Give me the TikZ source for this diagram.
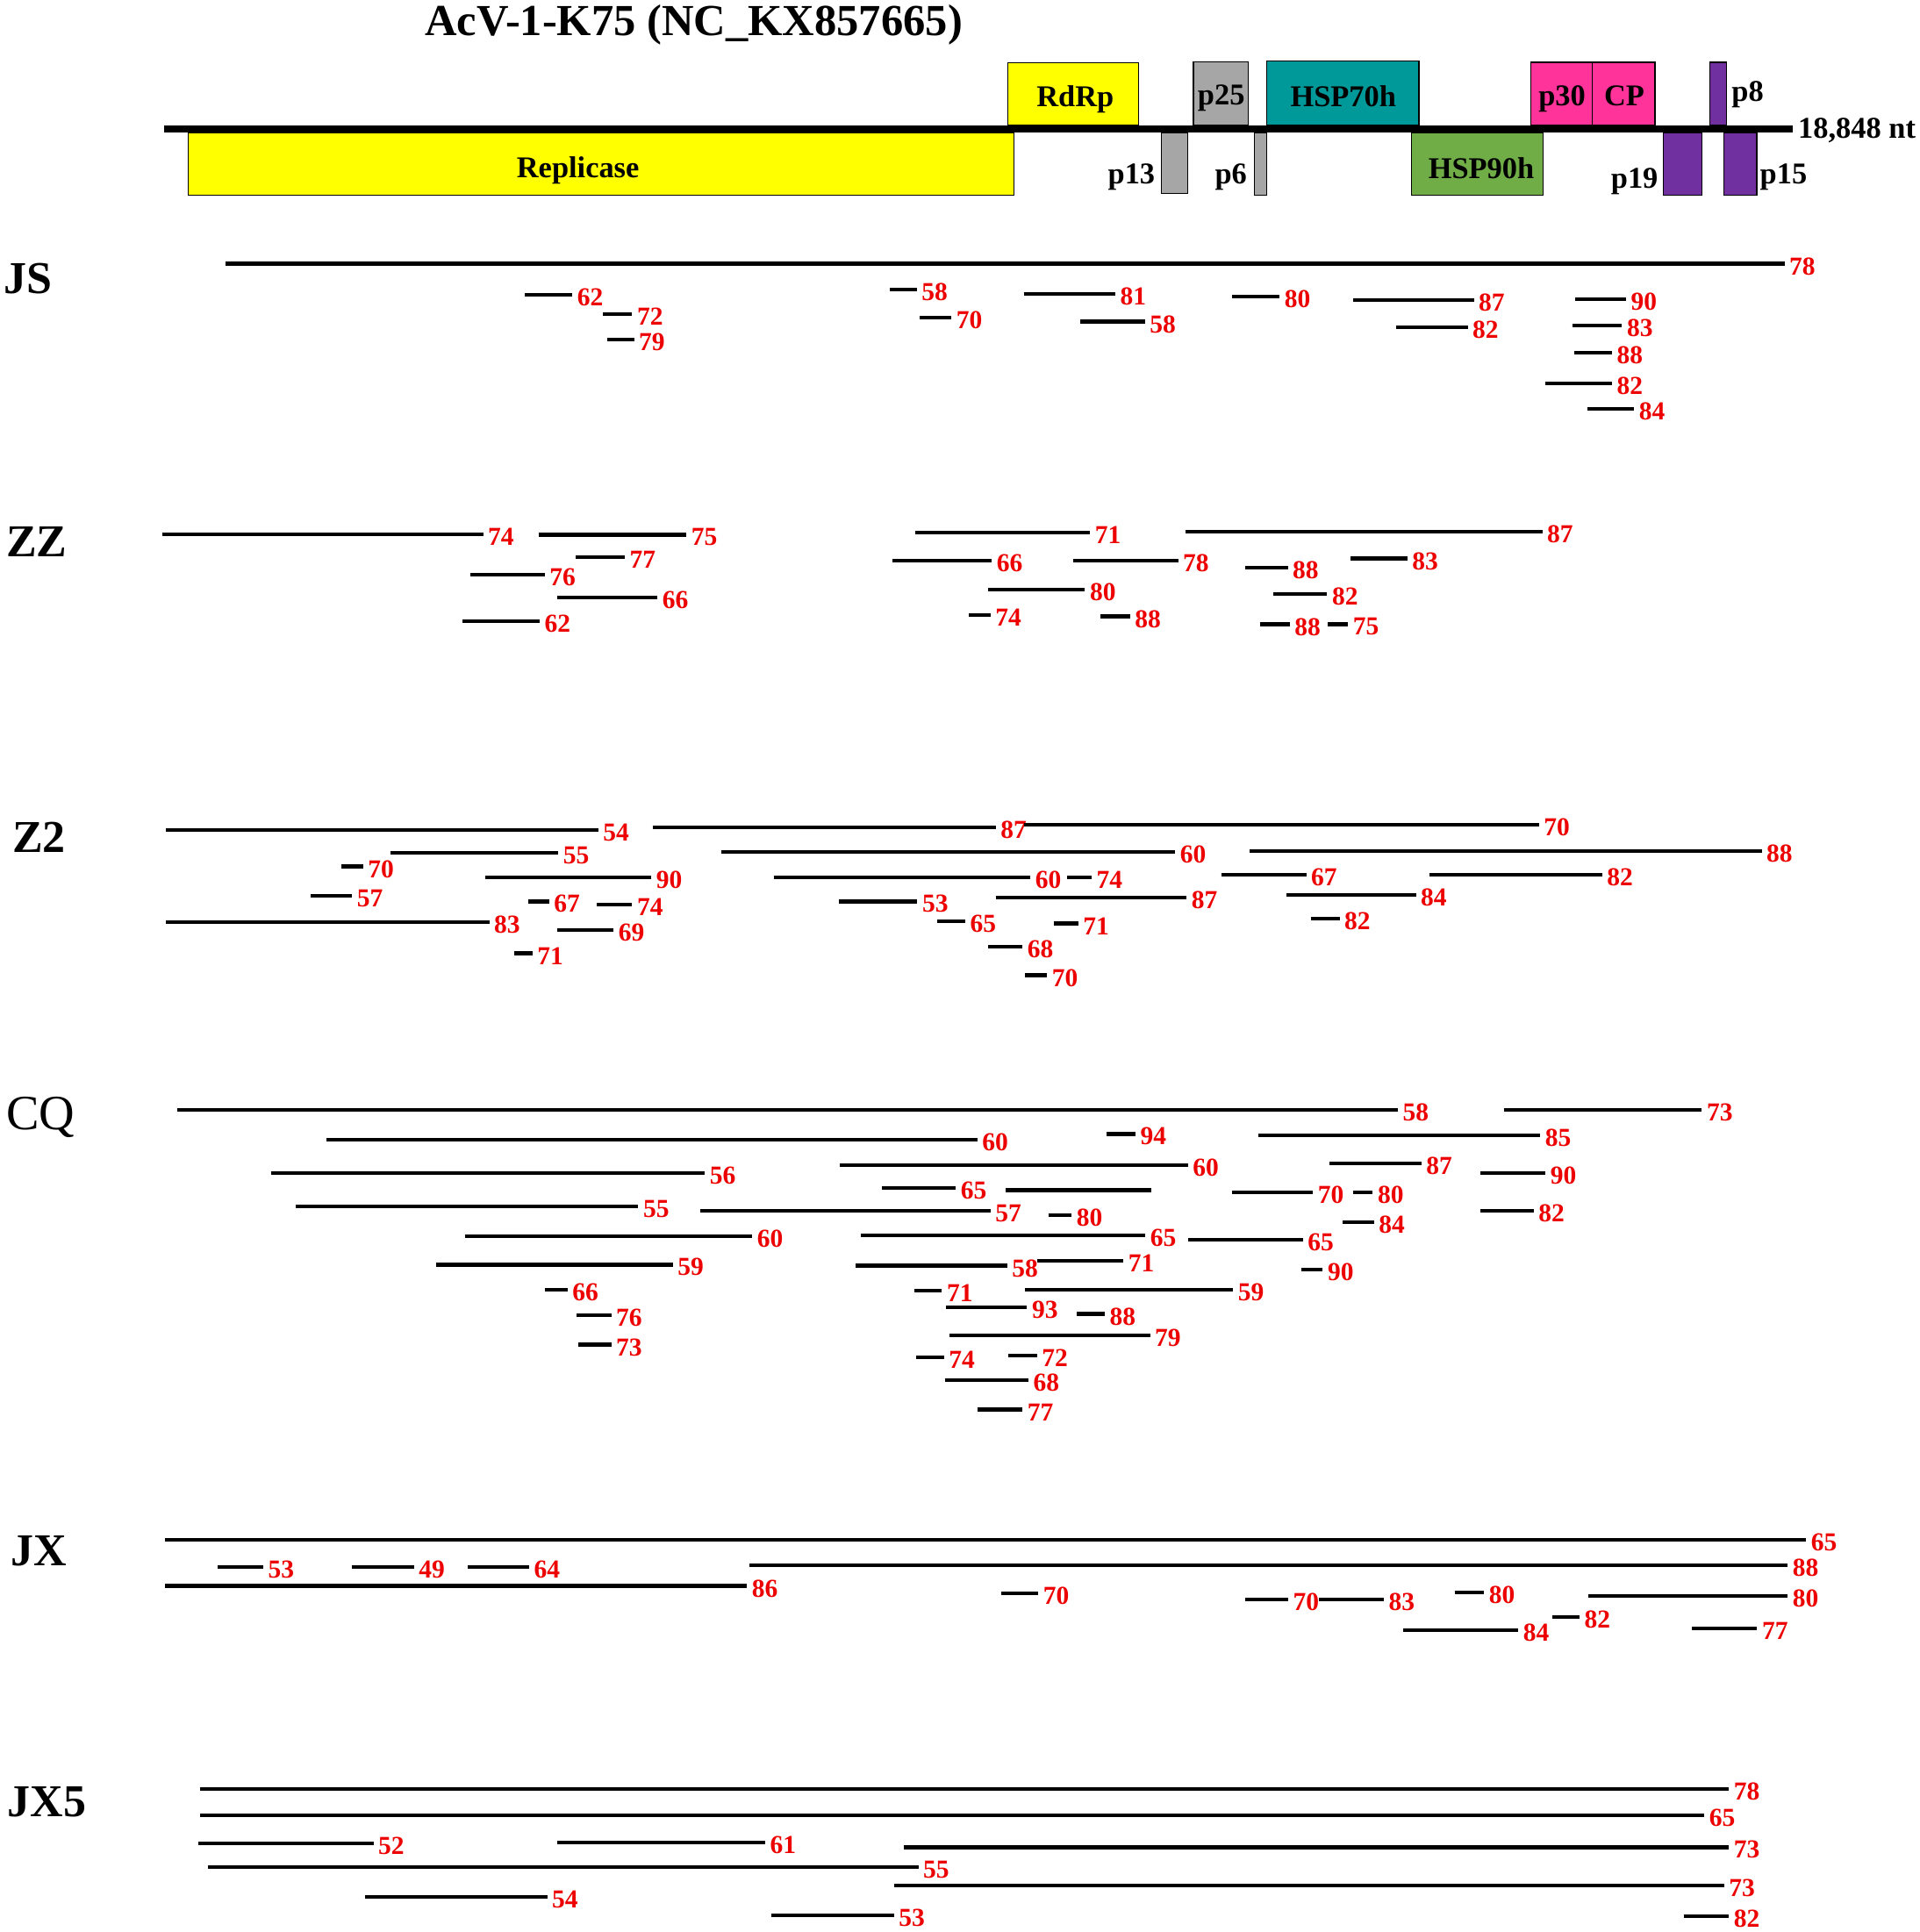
\documentclass[tikz,border=0pt]{standalone}
\usepackage{fontspec}
\setmainfont{Liberation Serif}
\definecolor{cyel}{RGB}{255,255,0}
\definecolor{cgray}{RGB}{166,166,166}
\definecolor{cteal}{RGB}{0,153,153}
\definecolor{cgreen}{RGB}{112,173,71}
\definecolor{cpink}{RGB}{255,51,153}
\definecolor{cpurp}{RGB}{112,48,160}
\definecolor{cred}{RGB}{237,0,0}
\tikzset{
  gene/.style={draw=black, line width=0.9pt},
  boxlab/.style={anchor=base, font=\bfseries\fontsize{24.5}{25}\selectfont, inner sep=0pt},
  plab/.style={anchor=base west, font=\bfseries\fontsize{24.5}{25}\selectfont, inner sep=0pt},
  numlab/.style={anchor=west, text=cred, font=\bfseries\fontsize{21}{21}\selectfont, inner sep=2.5pt, yshift=-2pt},
  segline/.style={line width=3pt},
  rowlab/.style={anchor=base west, font=\bfseries\fontsize{37}{37}\selectfont, inner sep=0pt}
}
\newcommand\covseg[4]{\draw[segline] (#1,#3) -- (#2,#3) node[numlab] {#4};}
\begin{document}
\begin{tikzpicture}[x=1pt,y=-1pt]
\useasboundingbox (0,0) rectangle (1558,1568);
% title
\node[anchor=base, font=\bfseries\fontsize{36}{36}\selectfont, inner sep=0pt] (title) at (563,28.5) {AcV-1-K75 (NC\_KX857665)};
% genome boxes above
\draw[gene, fill=cyel] (818,51) rectangle (924,101.5);
\node[boxlab] (rdrp) at (872.5,86.6) {RdRp};
\draw[gene, fill=cgray] (968.5,50) rectangle (1013,101.5);
\node[boxlab] (p25) at (991,85.4) {p25};
\draw[gene, fill=cteal] (1028,49.4) rectangle (1151.5,101.5);
\node[boxlab] (hsp70) at (1090,86.6) {HSP70h};
\draw[gene, fill=cpink] (1242,50.6) rectangle (1292,101.5);
\node[boxlab] (p30) at (1267.5,86) {p30};
\draw[gene, fill=cpink] (1292,50.6) rectangle (1343,101.5);
\node[boxlab] (cp) at (1318,86) {CP};
\draw[gene, fill=cpurp] (1387.6,50.6) rectangle (1401,101.5);
\node[plab] (p8) at (1405,82) {p8};
% genome boxes below
\draw[gene, fill=cyel] (152.5,107.5) rectangle (823,158.6);
\node[boxlab] (repl) at (469,144) {Replicase};
\draw[gene, fill=cgray] (942.4,107.5) rectangle (963.6,157);
\node[plab, anchor=base east] (p13) at (937.4,149.5) {p13};
\draw[gene, fill=cgray] (1018,107.5) rectangle (1028,158.6);
\node[plab, anchor=base east] (p6) at (1012,149.5) {p6};
\draw[gene, fill=cgreen] (1145.5,107.5) rectangle (1252,158.6);
\node[boxlab] (hsp90) at (1202,144.8) {HSP90h};
\draw[gene, fill=cpurp] (1349.5,107.5) rectangle (1381,158.6);
\node[plab, anchor=base east] (p19) at (1345.6,153) {p19};
\draw[gene, fill=cpurp] (1399,107.5) rectangle (1425.6,158.6);
\node[plab] (p15) at (1428,149.5) {p15};
% genome line
\draw[line width=6pt] (133,104.5) -- (1455,104.5);
\node[plab] (nt) at (1459,112.5) {18,848 nt};
% row names
\node[rowlab] (JS) at (3,238.5) {JS};
\node[rowlab] (ZZ) at (5,452) {ZZ};
\node[rowlab] (Z2) at (10,692) {Z2};
\node[rowlab, font=\fontsize{40}{40}\selectfont] (CQ) at (5,917) {CQ};
\node[rowlab] (JX) at (9,1271) {JX};
\node[rowlab] (JX5) at (6,1474) {JX5};
% JS
\covseg{183}{1448}{214}{78}
\covseg{426}{464.5}{239.5}{62}
\covseg{489.5}{513}{255}{72}
\covseg{493}{514.5}{275.5}{79}
\covseg{722}{744}{235}{58}
\covseg{746}{772}{257.5}{70}
\covseg{830.7}{905}{238.5}{81}
\covseg{876.5}{929}{261}{58}
\covseg{999.6}{1038.4}{240.9}{80}
\covseg{1098.3}{1196}{243.3}{87}
\covseg{1132.8}{1191}{265.4}{82}
\covseg{1278.5}{1319.4}{242.8}{90}
\covseg{1275.7}{1316.2}{264}{83}
\covseg{1277.5}{1308}{286.5}{88}
\covseg{1254.2}{1308}{311}{82}
\covseg{1288}{1326}{331.8}{84}
% ZZ
\covseg{131.4}{392}{433.9}{74}
\covseg{437}{557}{434}{75}
\covseg{467}{507}{452}{77}
\covseg{382}{442}{466.4}{76}
\covseg{452}{533.5}{485}{66}
\covseg{375.6}{438}{503.9}{62}
\covseg{742.8}{884.6}{432}{71}
\covseg{961.8}{1251.5}{431.5}{87}
\covseg{724}{804.8}{455.2}{66}
\covseg{871.2}{956}{455}{78}
\covseg{1010.4}{1045}{460.5}{88}
\covseg{1096}{1142}{453.3}{83}
\covseg{802}{880.4}{478.3}{80}
\covseg{1033}{1077}{482.3}{82}
\covseg{786}{803.8}{498.9}{74}
\covseg{892.8}{917}{500.3}{88}
\covseg{1022.2}{1046.5}{506.7}{88}
\covseg{1077.7}{1094}{506.7}{75}
% Z2
\covseg{134.9}{485.5}{673.6}{54}
\covseg{529.5}{808}{671.7}{87}
\covseg{830.7}{1248.8}{669.3}{70}
\covseg{317.2}{453}{692.4}{55}
\covseg{585.4}{953.7}{691.4}{60}
\covseg{1014.2}{1429.5}{690.7}{88}
\covseg{277.2}{294.7}{703.2}{70}
\covseg{393.6}{528.5}{712}{90}
\covseg{628.4}{836.1}{712}{60}
\covseg{865.8}{885.8}{712}{74}
\covseg{991}{1060}{709.7}{67}
\covseg{1159.8}{1300}{709.7}{82}
\covseg{252.3}{285.7}{727}{57}
\covseg{428.6}{445.6}{731.7}{67}
\covseg{484.5}{513}{734.1}{74}
\covseg{680.8}{744.4}{731.7}{53}
\covseg{808}{962.9}{728.6}{87}
\covseg{760.6}{783.3}{747.6}{65}
\covseg{134.9}{397}{748.4}{83}
\covseg{452}{498}{754.8}{69}
\covseg{417}{432}{773.7}{71}
\covseg{855}{875}{749.5}{71}
\covseg{1043.8}{1149}{726.3}{84}
\covseg{1063.8}{1087}{745.3}{82}
\covseg{802}{829.7}{768.3}{68}
\covseg{831.8}{849.6}{791.5}{70}
% CQ
\covseg{143.8}{1134.4}{900.7}{58}
\covseg{1220.2}{1381}{900.7}{73}
\covseg{264.7}{793}{925.2}{60}
\covseg{898.2}{921.4}{920.4}{94}
\covseg{1021.1}{1249.9}{921.4}{85}
\covseg{219.8}{572}{951.8}{56}
\covseg{681.8}{964}{945.4}{60}
\covseg{1078.9}{1153.3}{944.2}{87}
\covseg{1201.4}{1254.2}{952.2}{90}
\covseg{715.8}{775.7}{964.1}{65}
\draw[segline] (816.2,966) -- (934.3,966);
\covseg{999.6}{1065.4}{967.7}{70}
\covseg{1097.8}{1114}{967.9}{80}
\covseg{239.8}{518}{979.1}{55}
\covseg{567.9}{803.8}{982.6}{57}
\covseg{850.7}{869.6}{986.2}{80}
\covseg{1201.4}{1244.5}{982.6}{82}
\covseg{1089.6}{1115}{992.1}{84}
\covseg{377.1}{610.4}{1003.5}{60}
\covseg{698.3}{929.4}{1002.8}{65}
\covseg{964}{1057.3}{1006.3}{65}
\covseg{353.6}{546}{1026.5}{59}
\covseg{694.3}{817.2}{1027.2}{58}
\covseg{841.5}{911.6}{1023.4}{71}
\covseg{1055.7}{1073.4}{1030.6}{90}
\covseg{442}{460.5}{1046.7}{66}
\covseg{741.8}{764.4}{1047.4}{71}
\covseg{831.8}{1000.6}{1046.7}{59}
\covseg{468}{496}{1067.4}{76}
\covseg{767.7}{833.4}{1061}{93}
\covseg{873.9}{896.5}{1066.4}{88}
\covseg{469.5}{496}{1091.3}{73}
\covseg{770.2}{933.2}{1084}{79}
\covseg{743.2}{766}{1101.3}{74}
\covseg{818.3}{841.5}{1100.1}{72}
\covseg{766.7}{834.5}{1120.3}{68}
\covseg{793}{829.7}{1144}{77}
% JX
\covseg{134.2}{1465.6}{1249.6}{65}
\covseg{176.9}{213.6}{1271.7}{53}
\covseg{285.2}{335.9}{1271.7}{49}
\covseg{379.6}{429.3}{1271.7}{64}
\covseg{608.1}{1450.7}{1270.3}{88}
\covseg{134.2}{606.1}{1287.1}{86}
\covseg{812.8}{842.6}{1293}{70}
\covseg{1010.5}{1045.3}{1298.3}{70}
\covseg{1070.2}{1122.9}{1298.3}{83}
\covseg{1180.4}{1204.3}{1292.3}{80}
\covseg{1288.8}{1450.7}{1295.4}{80}
\covseg{1260}{1281.7}{1312.5}{82}
\covseg{1138.7}{1232.1}{1323.2}{84}
\covseg{1373.2}{1425.9}{1321.5}{77}
% JX5
\covseg{162}{1403}{1451.8}{78}
\covseg{162}{1383}{1473.2}{65}
\covseg{161}{303}{1495.8}{52}
\covseg{452}{621}{1495.3}{61}
\covseg{733.3}{1403}{1499.3}{73}
\covseg{169}{745.2}{1515.5}{55}
\covseg{725.4}{1399}{1530.4}{73}
\covseg{296}{444}{1539.7}{54}
\covseg{626}{725.4}{1554.6}{53}
\covseg{1366.2}{1403}{1555}{82}
\end{tikzpicture}
\end{document}
